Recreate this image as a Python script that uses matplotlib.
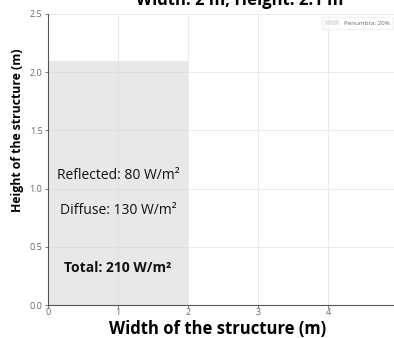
import matplotlib
matplotlib.use("Agg")
import matplotlib.pyplot as plt
from matplotlib.patches import Rectangle

# Structure dimensions (m)
struct_width = 2.0
struct_height = 2.1

# Irradiance components (W/m²)
components = ["Reflected", "Diffuse"]
component_values = [80, 130]
total_value = sum(component_values)

penumbra_pct = 20

x_ticks = [0, 1, 2, 3, 4]
y_ticks = [0.0, 0.5, 1.0, 1.5, 2.0, 2.5]

plt.rcParams["font.family"] = ["Open Sans", "DejaVu Sans"]

fig = plt.figure(figsize=(3.94, 3.38), dpi=100)
ax = fig.add_axes([0.1218, 0.0976, 0.888, 0.861])

ax.set_xlim(0, 5)
ax.set_ylim(0, 2.5)

ax.grid(True, color="#e6e6e6", linewidth=0.6)
ax.set_axisbelow(True)

rect = Rectangle((0, 0), struct_width, struct_height, facecolor="#d9d9d9",
                 alpha=0.6, edgecolor="none", label=f"Penumbra: {penumbra_pct}%")
ax.add_patch(rect)

ax.text(struct_width / 2, 1.11, f"{components[0]}: {component_values[0]} W/m²",
        ha="center", va="center", fontsize=10, color="#111111")
ax.text(struct_width / 2, 0.81, f"{components[1]}: {component_values[1]} W/m²",
        ha="center", va="center", fontsize=10, color="#111111")
ax.text(struct_width / 2, 0.32, f"Total: {total_value} W/m²",
        ha="center", va="center", fontsize=10, fontweight="bold", color="#111111")

ax.set_xticks(x_ticks)
ax.set_yticks(y_ticks)
ax.set_yticklabels([f"{v:.1f}" for v in y_ticks])
ax.tick_params(labelsize=6.5, colors="#666666", length=2, width=0.6, pad=2)
ax.tick_params(axis="x", pad=0.5)

for side in ("top", "right"):
    ax.spines[side].set_visible(False)
for side in ("left", "bottom"):
    ax.spines[side].set_color("#555555")
    ax.spines[side].set_linewidth(0.8)

fig.text(218 / 394, 1 - 334 / 338, "Width of the structure (m)", fontsize=12,
         fontweight="bold", ha="center", va="baseline")
fig.text(18 / 394, 1 - 130 / 338, "Height of the structure (m)", rotation=90,
         ha="center", va="center", fontsize=8.8, fontweight="bold")

fig.text(240 / 394, 1 - 5 / 338, f"Width: {struct_width:g} m, Height: {struct_height:g} m",
         ha="center", va="baseline", fontsize=12, fontweight="bold")

leg = ax.legend(loc="upper right", bbox_to_anchor=(0.995, 1.0), fontsize=4.5,
                frameon=True, handlelength=2.2, handleheight=0.9,
                borderpad=0.5, fancybox=False)
leg.get_frame().set_edgecolor("#eeeeee")
for t in leg.get_texts():
    t.set_color("#666666")

fig.text(0, 1 - 311 / 338, "5", fontsize=6.5, color="#777777",
         ha="right", va="center")

fig.savefig("out.png", dpi=100)
